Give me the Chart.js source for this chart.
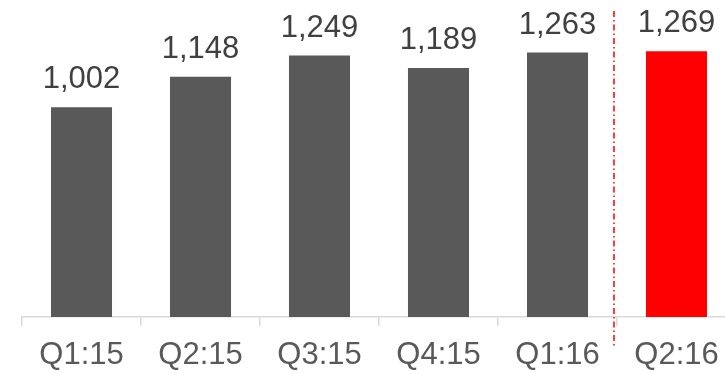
<!DOCTYPE html>
<html lang="en">
<head>
    <meta charset="UTF-8">
    <title>quarterly bars</title>
    <script src="https://cdn.jsdelivr.net/npm/chart.js"></script>
    <style>
        html, body { margin: 0; padding: 0; overflow: hidden; background: #fff; }
        canvas { display: block; }
    </style>
</head>
<body>
    <canvas id="barChart" width="740" height="374"></canvas>

    <script>
        // values
        const quarters = ['Q1:15', 'Q2:15', 'Q3:15', 'Q4:15', 'Q1:16', 'Q2:16'];
        const totals = [1002, 1148, 1249, 1189, 1263, 1269];
        const barColors = ['#595959', '#595959', '#595959', '#595959', '#595959', '#ff0000'];

        const fontFamily = '"Liberation Sans", Arial, sans-serif';

        // numbers above each bar
        const valueLabels = {
            id: 'valueLabels',
            afterDatasetsDraw(chart) {
                const ctx = chart.ctx;
                const meta = chart.getDatasetMeta(0);
                ctx.save();
                ctx.font = '31px ' + fontFamily;
                ctx.fillStyle = '#404040';
                ctx.textAlign = 'center';
                ctx.textBaseline = 'alphabetic';
                meta.data.forEach((bar, i) => {
                    ctx.fillText(totals[i].toLocaleString('en-US'), bar.x, bar.y - 19);
                });
                ctx.restore();
            }
        };

        // red dash-dot divider before the last quarter
        const divider = {
            id: 'divider',
            afterDraw(chart) {
                const ctx = chart.ctx;
                const x = chart.scales.x;
                const area = chart.chartArea;
                const px = (x.getPixelForValue(4) + x.getPixelForValue(5)) / 2 - 3;
                ctx.save();
                ctx.strokeStyle = '#ff0000';
                ctx.lineWidth = 1.5;
                ctx.setLineDash([6, 3, 1.5, 3]);
                ctx.beginPath();
                ctx.moveTo(px, area.top + 8);
                ctx.lineTo(px, area.bottom + 31);
                ctx.stroke();
                ctx.restore();
            }
        };

        new Chart(document.getElementById('barChart'), {
            type: 'bar',
            data: {
                labels: quarters,
                datasets: [{
                    data: totals,
                    backgroundColor: barColors,
                    borderWidth: 0,
                    categoryPercentage: 1,
                    barPercentage: 0.513
                }]
            },
            options: {
                responsive: false,
                animation: false,
                layout: { padding: { top: 3, left: 22, right: 4, bottom: -12 } },
                plugins: {
                    legend: { display: false },
                    tooltip: { enabled: false }
                },
                scales: {
                    x: {
                        grid: {
                            display: true,
                            drawOnChartArea: false,
                            drawTicks: true,
                            tickLength: 9,
                            color: '#d9d9d9',
                            lineWidth: 1.5
                        },
                        border: { display: true, color: '#d9d9d9', width: 1.5 },
                        ticks: {
                            color: '#595959',
                            font: { family: fontFamily, size: 31, lineHeight: 1.1 },
                            padding: 13,
                            maxRotation: 0
                        }
                    },
                    y: {
                        display: false,
                        min: 0,
                        max: 1500
                    }
                }
            },
            plugins: [valueLabels, divider]
        });
    </script>
</body>
</html>
